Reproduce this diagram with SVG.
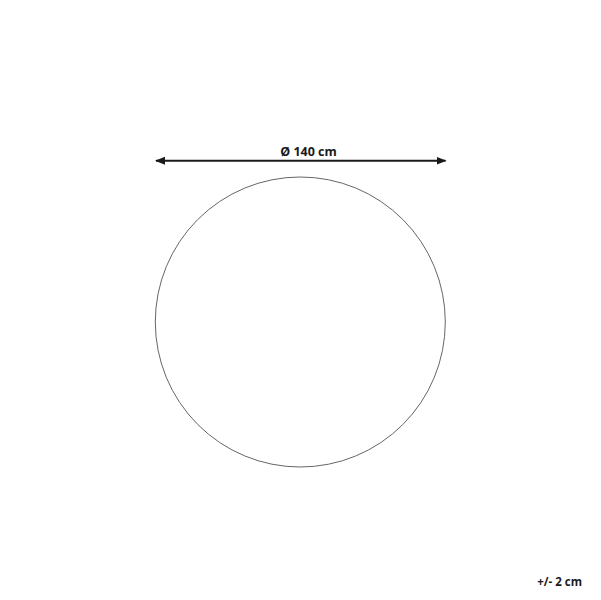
<svg xmlns="http://www.w3.org/2000/svg" width="601" height="600" viewBox="0 0 601 600">
<style>
.t{font-family:"Open Sans","Liberation Sans",sans-serif;font-weight:bold;fill:#1a1a1a}
</style>
<defs>
<marker id="ah" viewBox="0 0 10 10" refX="9" refY="5" markerWidth="10" markerHeight="10" markerUnits="userSpaceOnUse" orient="auto-start-reverse">
<path d="M0,1 L10,5 L0,9 Z" fill="#1a1a1a"/>
</marker>
</defs>
<rect width="601" height="600" fill="#fff"/>
<g id="connectors">
<line x1="156" y1="160.7" x2="445.5" y2="160.7" stroke="#1a1a1a" stroke-width="2" marker-start="url(#ah)" marker-end="url(#ah)"/>
</g>
<g id="circle">
<circle cx="300.3" cy="322" r="145" fill="none" stroke="#666" stroke-width="1"/>
</g>
<g id="label">
<text class="t" x="308.5" y="156" font-size="12.5" text-anchor="middle">Ø 140 cm</text>
</g>
<g id="tolerance">
<text class="t" x="582" y="585.5" font-size="11.5" text-anchor="end">+/- 2 cm</text>
</g>
</svg>
